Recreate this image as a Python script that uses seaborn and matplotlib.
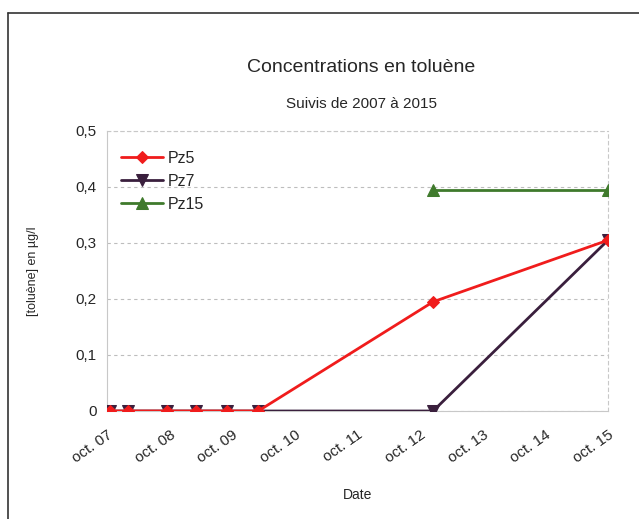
import pandas as pd
import matplotlib.pyplot as plt
import matplotlib.dates as mdates
import seaborn as sns
from matplotlib.lines import Line2D

# sampling dates and toluene concentrations (ug/l)
dates_pz5 = ["2007-10-20", "2008-02-01", "2008-09-15", "2009-03-01", "2009-09-01", "2010-03-01", "2012-12-15", "2015-10-01"]
pz5 = [0, 0, 0, 0, 0, 0, 0.195, 0.305]
dates_pz7 = ["2007-10-20", "2008-02-01", "2008-09-15", "2009-03-01", "2009-09-01", "2010-03-01", "2012-12-15", "2015-10-01"]
pz7 = [0, 0, 0, 0, 0, 0, 0, 0.305]
dates_pz15 = ["2012-12-15", "2015-10-01"]
pz15 = [0.395, 0.395]

series = ["Pz5", "Pz7", "Pz15"]
colors = ["#f01c1c", "#3a1f3d", "#3f7a2c"]
markers = ["D", "v", "^"]
zorders = [4, 3, 3]
tick_years = list(range(2007, 2016))

sns.set_style("white")
plt.rcParams["font.family"] = ["Liberation Sans", "DejaVu Sans"]

fig = plt.figure(figsize=(6.39, 5.19), dpi=100)
ax = fig.add_axes([107 / 639, 1 - 411 / 519, 501 / 639, 280 / 519])

data = [(dates_pz5, pz5), (dates_pz7, pz7), (dates_pz15, pz15)]
for name, (d, v), c, m, z in zip(series, data, colors, markers, zorders):
    df = pd.DataFrame({"date": pd.to_datetime(d), "val": v})
    sns.lineplot(data=df, x="date", y="val", ax=ax, color=c, marker=m,
                 markersize=8 if m != "D" else 6.5, markeredgecolor=c,
                 linewidth=2, label=name, zorder=z)

ax.set_xlim(pd.Timestamp("2007-10-01"), pd.Timestamp("2015-10-01"))
ax.set_ylim(0, 0.5)
ax.set_xticks([pd.Timestamp(f"{y}-10-01") for y in tick_years])
ax.xaxis.set_major_formatter(mdates.DateFormatter("oct. %y"))
ax.set_yticks([0, 0.1, 0.2, 0.3, 0.4, 0.5])
ax.set_yticklabels(["0", "0,1", "0,2", "0,3", "0,4", "0,5"])
plt.setp(ax.get_xticklabels(), rotation=35, ha="right", rotation_mode="anchor")
ax.tick_params(axis="both", labelsize=11, length=4, color="#bbbbbb", direction="out")
ax.tick_params(axis="x", pad=8)
ax.yaxis.grid(True, linestyle=(0, (3, 3)), color="#bdbdbd", linewidth=0.8)
for s in ax.spines.values():
    s.set_color("#c8c8c8")
    s.set_linewidth(0.8)
ax.spines["top"].set_linestyle((0, (3, 3)))
ax.spines["right"].set_linestyle((0, (3, 3)))

ax.set_xlabel("Date", fontsize=10, labelpad=16)
ax.set_ylabel("[toluène] en µg/l", fontsize=9, labelpad=26)

ax.legend(loc="upper left", bbox_to_anchor=(0.0, 0.98), frameon=False,
          fontsize=11.5, handlelength=2.6, labelspacing=0.5, handletextpad=0.3)

fig.text(0.565, 1 - 68 / 519, "Concentrations en toluène", ha="center", va="center", fontsize=14)
fig.text(0.565, 1 - 104 / 519, "Suivis de 2007 à 2015", ha="center", va="center", fontsize=11)

# scanned frame: top and left edges only
fig.add_artist(Line2D([8 / 639, 1.0], [1 - 13 / 519, 1 - 13 / 519], transform=fig.transFigure,
                      color="#333333", linewidth=1.2))
fig.add_artist(Line2D([8 / 639, 8 / 639], [0.0, 1 - 13 / 519], transform=fig.transFigure,
                      color="#333333", linewidth=1.2))

fig.savefig("out.png", dpi=100)
